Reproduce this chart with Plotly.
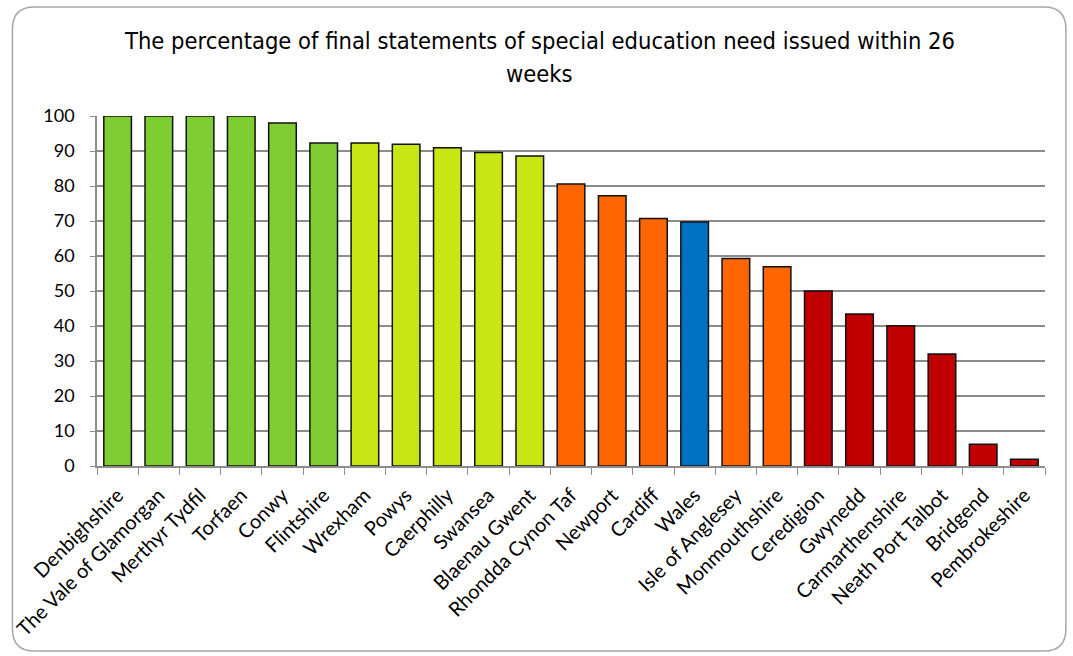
import plotly.graph_objects as go

categories = ["Denbighshire", "The Vale of Glamorgan", "Merthyr Tydfil", "Torfaen", "Conwy",
              "Flintshire", "Wrexham", "Powys", "Caerphilly", "Swansea", "Blaenau Gwent",
              "Rhondda Cynon Taf", "Newport", "Cardiff", "Wales", "Isle of Anglesey",
              "Monmouthshire", "Ceredigion", "Gwynedd", "Carmarthenshire", "Neath Port Talbot",
              "Bridgend", "Pembrokeshire"]
values = [100, 100, 100, 100, 98.0, 92.3, 92.3, 91.9, 90.9, 89.6, 88.6,
          80.6, 77.2, 70.7, 69.7, 59.3, 56.9, 50.0, 43.4, 40.1, 32.0, 6.2, 1.9]
groups = ["g", "g", "g", "g", "g", "g", "y", "y", "y", "y", "y",
          "o", "o", "o", "b", "o", "o", "r", "r", "r", "r", "r", "r"]
group_colors = {"g": "#80CC33", "y": "#C8E614", "o": "#FF6600", "b": "#0070C0", "r": "#C00000"}
y_ticks = [0, 10, 20, 30, 40, 50, 60, 70, 80, 90, 100]
title_lines = ["The percentage of final statements of special education need issued within 26", "weeks"]

W, H = 1073, 656
L, R, T, B = 92, 28, 116, 190

fig = go.Figure(go.Bar(
    x=categories, y=values,
    marker=dict(color=[group_colors[g] for g in groups], line=dict(color="#111111", width=1.5)),
    width=0.67,
))

pw, ph = W - L - R, H - T - B
def px(x):
    return (x - L) / pw
def py(y):
    return (H - B - y) / ph

x0, x1, y0, y1, r = 7, 1066, 7, 651, 22
path = (f"M {px(x0+r)},{py(y0)} L {px(x1-r)},{py(y0)} Q {px(x1)},{py(y0)} {px(x1)},{py(y0+r)} "
        f"L {px(x1)},{py(y1-r)} Q {px(x1)},{py(y1)} {px(x1-r)},{py(y1)} "
        f"L {px(x0+r)},{py(y1)} Q {px(x0)},{py(y1)} {px(x0)},{py(y1-r)} "
        f"L {px(x0)},{py(y0+r)} Q {px(x0)},{py(y0)} {px(x0+r)},{py(y0)} Z")

title_font = dict(family="DejaVu Sans Condensed, DejaVu Sans, sans-serif", size=23.5, color="#000000")
annotations = [
    dict(text=title_lines[0], xref="paper", yref="paper", x=px(537), y=py(41),
         xanchor="center", yanchor="middle", showarrow=False, font=title_font),
    dict(text=title_lines[1], xref="paper", yref="paper", x=px(537), y=py(74),
         xanchor="center", yanchor="middle", showarrow=False, font=title_font),
]

fig.update_layout(
    width=W, height=H,
    margin=dict(l=L, r=R, t=T, b=B),
    paper_bgcolor="white", plot_bgcolor="white",
    font=dict(family="Lato, Open Sans, sans-serif", color="#000000", size=19),
    showlegend=False,
    annotations=annotations,
    shapes=[dict(type="path", xref="paper", yref="paper", path=path,
                 line=dict(color="#A6A6A6", width=1.5), fillcolor="rgba(0,0,0,0)", layer="below")],
    xaxis=dict(tickangle=-45, showline=True, linecolor="#8C8C8C", linewidth=1.5,
               ticks="outside", tickson="boundaries", ticklen=7, tickcolor="#8C8C8C",
               tickfont=dict(size=20), ticklabelstandoff=8),
    yaxis=dict(range=[0, 100], tickvals=y_ticks, showgrid=True, gridcolor="#8C8C8C", gridwidth=1.5,
               showline=True, linecolor="#8C8C8C", linewidth=1.5, ticks="outside", ticklen=5,
               tickcolor="#8C8C8C", tickfont=dict(size=18), ticklabelstandoff=12, zeroline=False),
)

fig.write_html("out.html")
